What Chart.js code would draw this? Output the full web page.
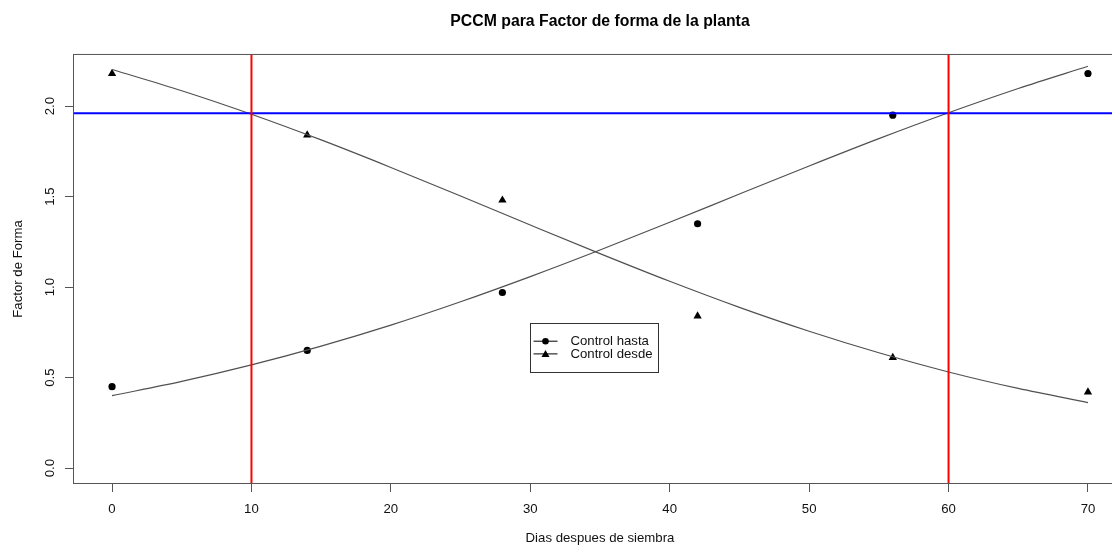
<!DOCTYPE html>
<html>
<head>
<meta charset="utf-8">
<script src="https://cdn.jsdelivr.net/npm/chart.js@4/dist/chart.umd.min.js"></script>
<style>
html,body{margin:0;padding:0;overflow:hidden;background:#fff}
#clip{position:relative;width:1112px;height:546px;overflow:hidden}
canvas{display:block}
</style>
</head>
<body>
<div id="clip"><canvas id="c" width="1127" height="546"></canvas></div>
<script>
// ---- data ----
const days = [0, 14, 28, 42, 56, 70];
const controlHasta = [0.45, 0.65, 0.97, 1.35, 1.95, 2.18];
const controlDesde = [2.18, 1.84, 1.48, 0.84, 0.61, 0.42];

const fitDays  = [0, 5, 10, 15, 20, 25, 30, 35, 40, 45, 50, 55, 60, 65, 70];
const fitHasta = [0.400, 0.479, 0.570, 0.674, 0.790, 0.919, 1.058, 1.205, 1.358, 1.514, 1.669, 1.820, 1.963, 2.097, 2.220];
const fitDesde = [2.202, 2.085, 1.955, 1.813, 1.661, 1.503, 1.343, 1.185, 1.032, 0.888, 0.756, 0.637, 0.531, 0.440, 0.362];

const criticalDays = [10, 60];
const thresholdValue = 1.96;

const xTicks = [0, 10, 20, 30, 40, 50, 60, 70];
const xTickLabels = ['0', '10', '20', '30', '40', '50', '60', '70'];
const yTicks = [0, 0.5, 1.0, 1.5, 2.0];
const yTickLabels = ['0.0', '0.5', '1.0', '1.5', '2.0'];

const xRange = [-2.8, 72.8];
const yRange = [-0.088, 2.288];

const seriesNames = ['Control hasta', 'Control desde'];

// ---- styling / layout ----
const FONT = "'Liberation Sans', Arial, Helvetica, sans-serif";
const AXIS_COLOR = '#555';
const TEXT_COLOR = '#111';
const legendAnchor = [30, 0.8];

const pts = (xs, ys) => xs.map((v, i) => ({x: v, y: ys[i]}));

const datasets = [];
criticalDays.forEach(d => datasets.push({
  data: [{x: d, y: yRange[0] - 1}, {x: d, y: yRange[1] + 1}],
  showLine: true, pointRadius: 0, borderColor: '#ff0000', borderWidth: 2
}));
datasets.push({
  data: [{x: xRange[0] - 5, y: thresholdValue}, {x: xRange[1] + 5, y: thresholdValue}],
  showLine: true, pointRadius: 0, borderColor: '#0000ff', borderWidth: 2
});
datasets.push({
  data: pts(fitDays, fitHasta), showLine: true, pointRadius: 0,
  borderColor: '#505050', borderWidth: 1.2, cubicInterpolationMode: 'monotone'
});
datasets.push({
  data: pts(fitDays, fitDesde), showLine: true, pointRadius: 0,
  borderColor: '#505050', borderWidth: 1.2, cubicInterpolationMode: 'monotone'
});
datasets.push({
  label: seriesNames[0], data: pts(days, controlHasta), showLine: false,
  pointStyle: 'circle', pointRadius: 3.6, backgroundColor: '#000', borderColor: '#000', borderWidth: 0
});
datasets.push({
  label: seriesNames[1], data: pts(days, controlDesde), showLine: false,
  pointStyle: 'triangle', pointRadius: 4.8, backgroundColor: '#000', borderColor: '#000', borderWidth: 0
});

const framePlugin = {
  id: 'frame',
  afterDraw(chart) {
    const {ctx, chartArea: a} = chart;
    ctx.save();
    ctx.strokeStyle = AXIS_COLOR;
    ctx.lineWidth = 1;
    ctx.strokeRect(a.left + 0.5, a.top + 0.5, a.right - a.left - 1, a.bottom - a.top - 1);
    ctx.restore();
  }
};

const legendPlugin = {
  id: 'rLegend',
  afterDraw(chart) {
    const {ctx, scales: {x, y}} = chart;
    const left = Math.round(x.getPixelForValue(legendAnchor[0])) + 0.5;
    const top = Math.round(y.getPixelForValue(legendAnchor[1])) + 0.5;
    const w = 128, h = 49;
    ctx.save();
    ctx.fillStyle = '#fff';
    ctx.fillRect(left, top, w, h);
    ctx.strokeStyle = '#333';
    ctx.lineWidth = 1;
    ctx.strokeRect(left, top, w, h);
    ctx.font = "13.2px " + FONT;
    ctx.textBaseline = 'middle';
    ctx.textAlign = 'left';
    seriesNames.forEach((name, i) => {
      const yy = top + 17.7 + i * 12.7;
      ctx.strokeStyle = '#000';
      ctx.lineWidth = 1;
      ctx.beginPath();
      ctx.moveTo(left + 3, yy);
      ctx.lineTo(left + 27, yy);
      ctx.stroke();
      ctx.fillStyle = '#000';
      ctx.beginPath();
      if (i === 0) {
        ctx.arc(left + 15, yy, 3.3, 0, Math.PI * 2);
      } else {
        ctx.moveTo(left + 15, yy - 4);
        ctx.lineTo(left + 19, yy + 3);
        ctx.lineTo(left + 11, yy + 3);
        ctx.closePath();
      }
      ctx.fill();
      ctx.fillStyle = TEXT_COLOR;
      ctx.fillText(name, left + 40, yy);
    });
    ctx.restore();
  }
};

new Chart(document.getElementById('c'), {
  type: 'scatter',
  data: {datasets},
  plugins: [framePlugin, legendPlugin],
  options: {
    responsive: false,
    animation: false,
    events: [],
    layout: {padding: 0, autoPadding: false},
    plugins: {
      legend: {display: false},
      tooltip: {enabled: false},
      title: {
        display: true, fullSize: false,
        text: 'PCCM para Factor de forma de la planta',
        color: '#000',
        font: {family: FONT, size: 15.8, weight: 'bold'},
        padding: {top: 12, bottom: 23}
      }
    },
    scales: {
      x: {
        type: 'linear', position: 'bottom',
        min: xRange[0], max: xRange[1],
        afterBuildTicks: s => { s.ticks = xTicks.map(v => ({value: v})); },
        afterFit: s => { s.height = 62; s.paddingLeft = 0; s.paddingRight = 0; },
        ticks: {
          autoSkip: false, maxRotation: 0, minRotation: 0,
          padding: 9, color: TEXT_COLOR,
          font: {family: FONT, size: 13.2},
          callback: (v, i) => xTickLabels[i]
        },
        grid: {display: true, drawOnChartArea: false, drawTicks: true, tickLength: 8, color: AXIS_COLOR, lineWidth: 1},
        border: {display: false},
        title: {display: true, text: 'Dias despues de siembra', color: TEXT_COLOR,
                font: {family: FONT, size: 13.2}, padding: {top: 0, bottom: 0}}
      },
      y: {
        type: 'linear', position: 'left',
        min: yRange[0], max: yRange[1],
        afterBuildTicks: s => { s.ticks = yTicks.map(v => ({value: v})); },
        afterFit: s => { s.width = 73; s.paddingTop = 0; s.paddingBottom = 0; },
        ticks: {
          autoSkip: false, minRotation: 90, maxRotation: 90, crossAlign: 'center',
          padding: 5, color: TEXT_COLOR,
          font: {family: FONT, size: 13.2},
          callback: (v, i) => yTickLabels[i]
        },
        grid: {display: true, drawOnChartArea: false, drawTicks: true, tickLength: 8, color: AXIS_COLOR, lineWidth: 1},
        border: {display: false},
        title: {display: true, text: 'Factor de Forma', color: TEXT_COLOR,
                font: {family: FONT, size: 13.2}, padding: {top: 10, bottom: 0}}
      }
    }
  }
});
</script>
</body>
</html>
